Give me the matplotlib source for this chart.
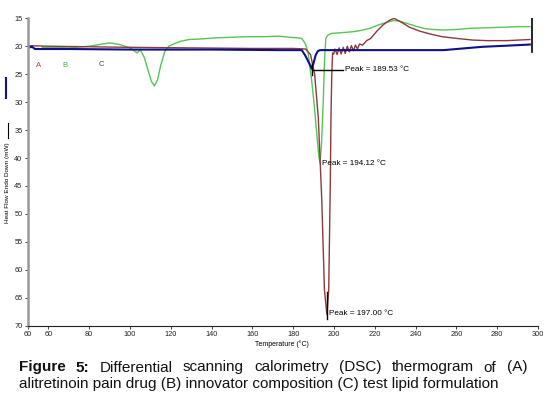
import matplotlib
matplotlib.use("Agg")
import matplotlib.pyplot as plt
from matplotlib.lines import Line2D

plt.rcParams['font.family'] = ['Liberation Sans', 'DejaVu Sans']

# A - alitretinoin (brown), B - innovator (green), C - test lipid (navy)
temp_A = [50, 60, 80, 100, 130, 160, 180, 186, 188.5, 190.5, 192.3, 194, 195.3, 196.5, 197.4, 198.2,
          198.5, 198.9, 199.3, 199.8, 200.5, 201.5, 202.5, 203.5, 204.5, 205.5, 206.5, 207.5, 208.5,
          209.5, 210.5, 211.5, 212.5, 214, 216, 218, 221, 224, 227, 229.4, 233, 237, 242, 247, 253,
          260, 268, 275, 285, 296]
flow_A = [19.9, 20.0, 20.1, 20.2, 20.3, 20.4, 20.4, 20.5, 21.5, 25, 32.8, 47.5, 63.6, 68, 63.6, 44,
          32.8, 25, 21.2, 21.4, 20.5, 21.5, 20.3, 21.4, 20.2, 21.3, 20.0, 21.0, 19.9,
          20.8, 19.8, 20.5, 19.6, 19.8, 19.0, 18.6, 17.3, 16.2, 15.4, 15.0, 15.7, 16.6, 17.3, 17.8, 18.3,
          18.6, 18.9, 19.0, 19.0, 18.8]

temp_B = [57, 60, 70, 80, 90, 95, 100, 102, 103.5, 105, 107, 109, 110.5, 112, 113.5, 115, 117, 119,
          122, 125, 129, 135, 142, 150, 157, 165, 173, 178.4, 182, 184.2, 186, 187.3, 189, 190.3,
          191.5, 192.5, 193.1, 193.8, 194.7, 195.4, 196, 197, 198.9, 203, 209.5, 213, 217.6, 221,
          224.2, 229.1, 232, 235.6, 240, 243.8, 248, 253.6, 260, 266.7, 275, 283, 290, 296]
flow_B = [20.2, 20.2, 20.3, 20.0, 19.4, 19.7, 20.3, 20.8, 21.2, 20.6, 22.0, 24.5, 26.3, 27.1, 26.0,
          23.5, 21.0, 20.0, 19.5, 19.1, 18.8, 18.7, 18.5, 18.4, 18.3, 18.3, 18.2, 18.4, 18.5, 18.6,
          19.6, 21.2, 26, 30.5, 35.5, 39.5, 40.9, 38, 30, 22, 18.6, 18.0, 17.7, 17.6, 17.4, 17.2, 16.8,
          16.3, 15.9, 15.4, 15.5, 15.9, 16.4, 16.8, 17.0, 17.1, 17.0, 16.8, 16.7, 16.6, 16.5, 16.5]

temp_C = [50, 51, 52, 53.4, 70, 100, 140, 173.5, 184.2, 185.8, 187.9, 189, 189.9, 191, 192, 193.1,
          200, 220, 235, 253.6, 273, 285, 296]
flow_C = [20.0, 20.2, 20.1, 20.5, 20.5, 20.6, 20.6, 20.7, 20.7, 21.6, 23.1, 24.0, 23.1, 21.6, 20.9,
          20.7, 20.7, 20.7, 20.7, 20.7, 20.1, 19.9, 19.7]

x_ticks = [50, 60, 80, 100, 120, 140, 160, 180, 200, 220, 240, 260, 280, 300]
x_labels = ["60", "60", "80", "100", "120", "140", "160", "180", "200", "220", "240", "260", "280", "300"]
y_ticks = [15, 20, 25, 30, 35, 40, 45, 50, 55, 60, 65, 70]

fig = plt.figure(figsize=(5.47, 3.98), dpi=100)
ax = fig.add_axes([0.0512, 0.1817, 0.9324, 0.7724])

ax.plot(temp_B, flow_B, color='#55c455', lw=1.0)
ax.plot(temp_A, flow_A, color='#8b3a3a', lw=1.0)
ax.plot(temp_C, flow_C, color='#10108a', lw=1.5)
ax.plot([296.9, 296.9], [14.7, 21.0], color='black', lw=1.2)

# peak markers
ax.plot([189, 204.5], [24.2, 24.2], color='black', lw=1.0)
ax.plot([189, 189], [23.2, 25.2], color='black', lw=1.0)
ax.plot([196.7, 196.7], [64, 68.8], color='black', lw=1.0)
ax.text(205.5, 24.2, "Peak = 189.53 °C", fontsize=5.9, va='center', ha='left')
ax.text(194.3, 40.9, "Peak = 194.12 °C", fontsize=5.9, va='center', ha='left')
ax.text(197.6, 67.8, "Peak = 197.00 °C", fontsize=5.9, va='center', ha='left')

ax.text(55.4, 23.5, "A", fontsize=5.5, color='#b04040', ha='center', va='center')
ax.text(68.1, 23.5, "B", fontsize=5.5, color='#40b040', ha='center', va='center')
ax.text(86.1, 23.2, "C", fontsize=5.5, color='#444444', ha='center', va='center')

ax.set_xlim(50, 300)
ax.set_ylim(70, 15)
ax.set_xticks(x_ticks)
ax.set_xticklabels(x_labels)
ax.set_yticks(y_ticks)
ax.tick_params(axis='both', labelsize=5.3, colors='#222222', length=2, width=0.6)
ax.tick_params(axis='x', pad=2)
ax.tick_params(axis='y', pad=2)
for s in ['top', 'right']:
    ax.spines[s].set_visible(False)
ax.spines['left'].set_color('#9a9a9a')
ax.spines['left'].set_linewidth(1.8)
ax.spines['bottom'].set_color('#222222')
ax.spines['bottom'].set_linewidth(0.8)

fig.text(282 / 547, 1 - 344.5 / 398, "Temperature (°C)", fontsize=5, ha='center', va='center')
fig.text(7.5 / 547, 1 - 182.5 / 398, "Heat Flow Endo Down (mW)", fontsize=4.6, rotation=90,
         ha='center', va='center')
fig.add_artist(Line2D([7.5 / 547, 7.5 / 547], [1 - 138 / 398, 1 - 123 / 398], color='black', lw=0.8))
fig.add_artist(Line2D([6 / 547, 6 / 547], [1 - 98 / 398, 1 - 78 / 398], color='#10108a', lw=1.5))

# caption, first line justified
line1 = [("Figure", True), ("5:", True), ("Differential", False), ("scanning", False),
         ("calorimetry", False), ("(DSC)", False), ("thermogram", False), ("of", False), ("(A)", False)]
line2 = "alitretinoin pain drug (B) innovator composition (C) test lipid formulation"
left_px, right_px, line2_end = 19, 527, 500
renderer = fig.canvas.get_renderer()
t2 = fig.text(left_px / 547, 1 - 388 / 398, line2, fontsize=10, color='#111111',
              va='baseline', ha='left')
cap_fs = 10 * (line2_end - left_px) / t2.get_window_extent(renderer).width
t2.set_fontsize(cap_fs)
words = []
for w, b in line1:
    t = fig.text(0, 1 - 371.5 / 398, w, fontsize=cap_fs, fontweight='bold' if b else 'normal',
                 color='#111111', va='baseline', ha='left')
    words.append(t)
widths = [t.get_window_extent(renderer).width for t in words]
gap = (right_px - left_px - sum(widths)) / (len(words) - 1)
x = left_px
for t, wd in zip(words, widths):
    t.set_x(x / 547)
    x += wd + gap

fig.savefig("out.png", dpi=100)
